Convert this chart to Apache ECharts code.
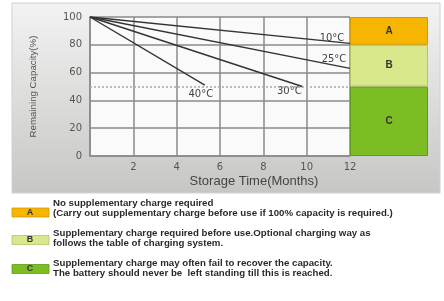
<!DOCTYPE html>
<html>
<head>
<meta charset="utf-8">
<script src="https://cdn.jsdelivr.net/npm/echarts@6/dist/echarts.min.js"></script>
<style>
  html, body { margin: 0; padding: 0; background: #fff; }
  #chart { width: 444px; height: 301px; }
</style>
</head>
<body>
<div id="chart"></div>
<script>
// storage curves: every line starts at 100% and goes straight to its end point
var temps = ['10°C', '25°C', '30°C', '40°C'];
var endMonths = [12, 12, 9.8, 5.3];
var endCaps = [81, 63, 50, 51];
var labelOffsets = [[-18, -5], [-16, -9], [-13, 5], [-4, 9]];

// right hand zones, stacked from the bottom
var zoneNames = ['C', 'B', 'A'];
var zoneSizes = [50, 30, 20];
var zoneColors = ['#7dbd24', '#d8e88b', '#f5b500'];
var zoneBorders = ['#5e9a1a', '#b3c46a', '#d49a00'];

// notes under the chart
var noteKeys = ['A', 'B', 'C'];
var noteColors = ['#f5b500', '#d8e88b', '#7dbd24'];
var noteLines = [
  ['No supplementary charge required',
   '(Carry out supplementary charge before use if 100% capacity is required.)'],
  ['Supplementary charge required before use.Optional charging way as',
   'follows the table of charging system.'],
  ['Supplementary charge may often fail to recover the capacity.',
   'The battery should never be  left standing till this is reached.']
];
var noteTextMid = [203, 233.5, 263.5];
var noteBoxMid = [212.5, 240, 269];

var xTicks = [0, 2, 4, 6, 8, 10, 12];

var myChart = echarts.init(document.getElementById('chart'));

var series = [];
temps.map(function (t, i) {
  var s = {
    name: t,
    type: 'line',
    xAxisIndex: 0,
    yAxisIndex: 0,
    symbol: 'circle',
    symbolSize: 0,
    showSymbol: true,
    silent: true,
    lineStyle: { color: '#333', width: 1.4 },
    data: [
      [0, 100],
      {
        value: [endMonths[i], endCaps[i]],
        label: {
          show: true,
          formatter: t,
          position: 'inside',
          offset: labelOffsets[i],
          color: '#444',
          fontSize: 10,
          fontFamily: 'DejaVu Sans'
        }
      }
    ]
  };
  if (i === 0) {
    s.markLine = {
      silent: true,
      symbol: 'none',
      label: { show: false },
      lineStyle: { color: '#a8a8a8', type: [2, 2], width: 1.5 },
      data: [{ yAxis: 50 }]
    };
  }
  series.push(s);
});

zoneNames.map(function (z, i) {
  series.push({
    name: z,
    type: 'bar',
    xAxisIndex: 1,
    yAxisIndex: 1,
    stack: 'zone',
    barWidth: '100%',
    silent: true,
    itemStyle: { color: zoneColors[i], borderColor: zoneBorders[i], borderWidth: 1 },
    label: {
      show: true,
      position: 'inside',
      formatter: z,
      color: '#333',
      fontSize: 10,
      fontWeight: 'bold',
      fontFamily: 'Liberation Sans'
    },
    data: [zoneSizes[i]]
  });
});

var graphics = [{
  type: 'rect',
  z: -10,
  shape: { x: 12, y: 3, width: 428, height: 190 },
  style: {
    fill: new echarts.graphic.LinearGradient(0, 0, 0, 1, [
      { offset: 0, color: '#f3f3f3' },
      { offset: 1, color: '#c6c6c4' }
    ]),
    stroke: '#d0d0d0',
    lineWidth: 1
  }
}];
noteKeys.map(function (k, i) {
  var boxMid = noteBoxMid[i];
  graphics.push({
    type: 'rect',
    shape: { x: 12, y: boxMid - 4.5, width: 37, height: 9 },
    style: { fill: noteColors[i], stroke: zoneBorders[2 - i], lineWidth: 0.8 }
  });
  graphics.push({
    type: 'text',
    x: 30, y: boxMid,
    style: {
      text: k, fill: '#333', font: 'bold 9px "Liberation Sans"',
      textAlign: 'center', textVerticalAlign: 'middle'
    }
  });
  noteLines[i].map(function (line, j) {
    graphics.push({
      type: 'text',
      x: 53, y: noteTextMid[i] + j * 10,
      style: {
        text: line, fill: '#2a2a2a', font: 'bold 9.7px "Liberation Sans"',
        textAlign: 'left', textVerticalAlign: 'middle'
      }
    });
  });
});

var option = {
  animation: false,
  grid: [
    { left: 90, right: 94, top: 17, bottom: 145, show: true, backgroundColor: '#fafafa', borderWidth: 0 },
    { left: 350, right: 16, top: 17, bottom: 145 }
  ],
  xAxis: [{
    type: 'value',
    gridIndex: 0,
    min: 0, max: 12, interval: 2,
    axisLine: { show: true, lineStyle: { color: '#8a8a8a', width: 1.5 } },
    axisTick: { show: false },
    axisLabel: {
      color: '#555', fontSize: 10, fontFamily: 'DejaVu Sans', margin: 6,
      formatter: function (v) { return v === xTicks[0] ? '' : v; }
    },
    splitLine: { show: true, lineStyle: { color: '#8a8a8a', width: 1.5 } },
    name: 'Storage Time(Months)',
    nameLocation: 'middle',
    nameGap: 19,
    nameTextStyle: { color: '#444', fontSize: 13, fontFamily: 'Liberation Sans', padding: [0, 0, 0, 68] }
  }, {
    type: 'category',
    gridIndex: 1,
    data: ['zone'],
    show: false
  }],
  yAxis: [{
    type: 'value',
    gridIndex: 0,
    min: 0, max: 100, interval: 20,
    axisLine: { show: true, lineStyle: { color: '#8a8a8a', width: 1.5 } },
    axisTick: { show: false },
    axisLabel: { color: '#555', fontSize: 10, fontFamily: 'DejaVu Sans', margin: 8 },
    splitLine: { show: true, lineStyle: { color: '#8a8a8a', width: 1.5 } },
    name: 'Remaining Capacity(%)',
    nameLocation: 'middle',
    nameGap: 52,
    nameTextStyle: { color: '#555', fontSize: 9.7, fontFamily: 'Liberation Sans' }
  }, {
    type: 'value',
    gridIndex: 1,
    min: 0, max: 100,
    show: false
  }],
  graphic: graphics,
  series: series
};

myChart.setOption(option);
</script>
</body>
</html>
